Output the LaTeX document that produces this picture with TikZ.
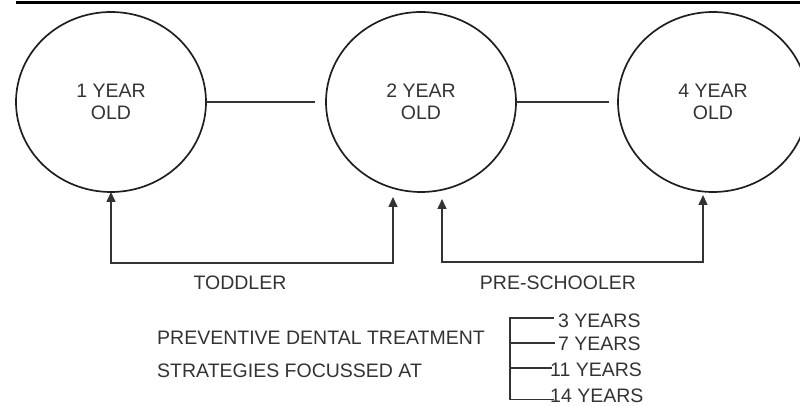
\documentclass[tikz,border=0pt]{standalone}
\usepackage{fontspec}
\setmainfont{Liberation Sans}
\usetikzlibrary{shapes.geometric,arrows.meta}
\begin{document}
\begin{tikzpicture}[x=1pt,y=-1pt,
  lbl/.style={inner sep=0pt, text=black!80, font=\fontsize{19.5}{22}\selectfont},
  stage/.style={lbl, ellipse, draw=black!88, line width=1.7pt,
    minimum width=190pt, minimum height=180pt, outer sep=0pt, align=center},
  link/.style={draw=black!80, line width=1.5pt},
  tip/.style={link, {Triangle[length=10pt,width=9pt]}-{Triangle[length=10pt,width=9pt]}}]
\useasboundingbox (0,0) rectangle (800,406);

% heading rule
\draw[line width=3pt, black] (16,2.8) -- (800,2.8);

% age stages
\node[stage] (c1) at (111,102) {1 YEAR\\OLD};
\node[stage] (c2) at (421,102) {2 YEAR\\OLD};
\node[stage] (c3) at (713,102) {4 YEAR\\OLD};
\draw[link, shorten >=11pt] (c1.east) -- (c2.west);
\draw[link, shorten >=9pt] (c2.east) -- (c3.west);

% toddler span
\coordinate (tdA) at (111,263);
\coordinate (tdB) at (393,263);
\coordinate (tdTip) at (393,197);
\draw[tip] (c1.south) -- (tdA) -- (tdB) -- (tdTip);
\node[lbl, anchor=base] (tod) at (240,289) {TODDLER};

% pre-schooler span
\coordinate (psTipL) at (442,199);
\coordinate (psA) at (442,262);
\coordinate (psB) at (703,262);
\coordinate (psTipR) at (703,195);
\draw[tip] (psTipL) -- (psA) -- (psB) -- (psTipR);
\node[lbl, anchor=base] (pre) at (558,289) {PRE-SCHOOLER};

% strategies
\node[lbl, anchor=base west] (p1) at (157,344) {PREVENTIVE DENTAL TREATMENT};
\node[lbl, anchor=base west] (p2) at (157,377) {STRATEGIES FOCUSSED AT};

\node[lbl, anchor=base west] (y3) at (558,327) {3 YEARS};
\node[lbl, anchor=base west] (y7) at (558,350) {7 YEARS};
\node[lbl, anchor=base west] (y11) at (550,376.5) {11 YEARS};
\node[lbl, anchor=base west] (y14) at (550,402) {14 YEARS};

\coordinate (k3) at (554,318);
\coordinate (k7) at (555,343);
\coordinate (k11) at (552,368);
\coordinate (k14) at (554,399.5);
\coordinate (spine) at (510,318);
\draw[link] (k3) -- (spine) |- (k14);
\draw[link] (k7) -- (k7 -| spine);
\draw[link] (k11) -- (k11 -| spine);
\end{tikzpicture}
\end{document}
